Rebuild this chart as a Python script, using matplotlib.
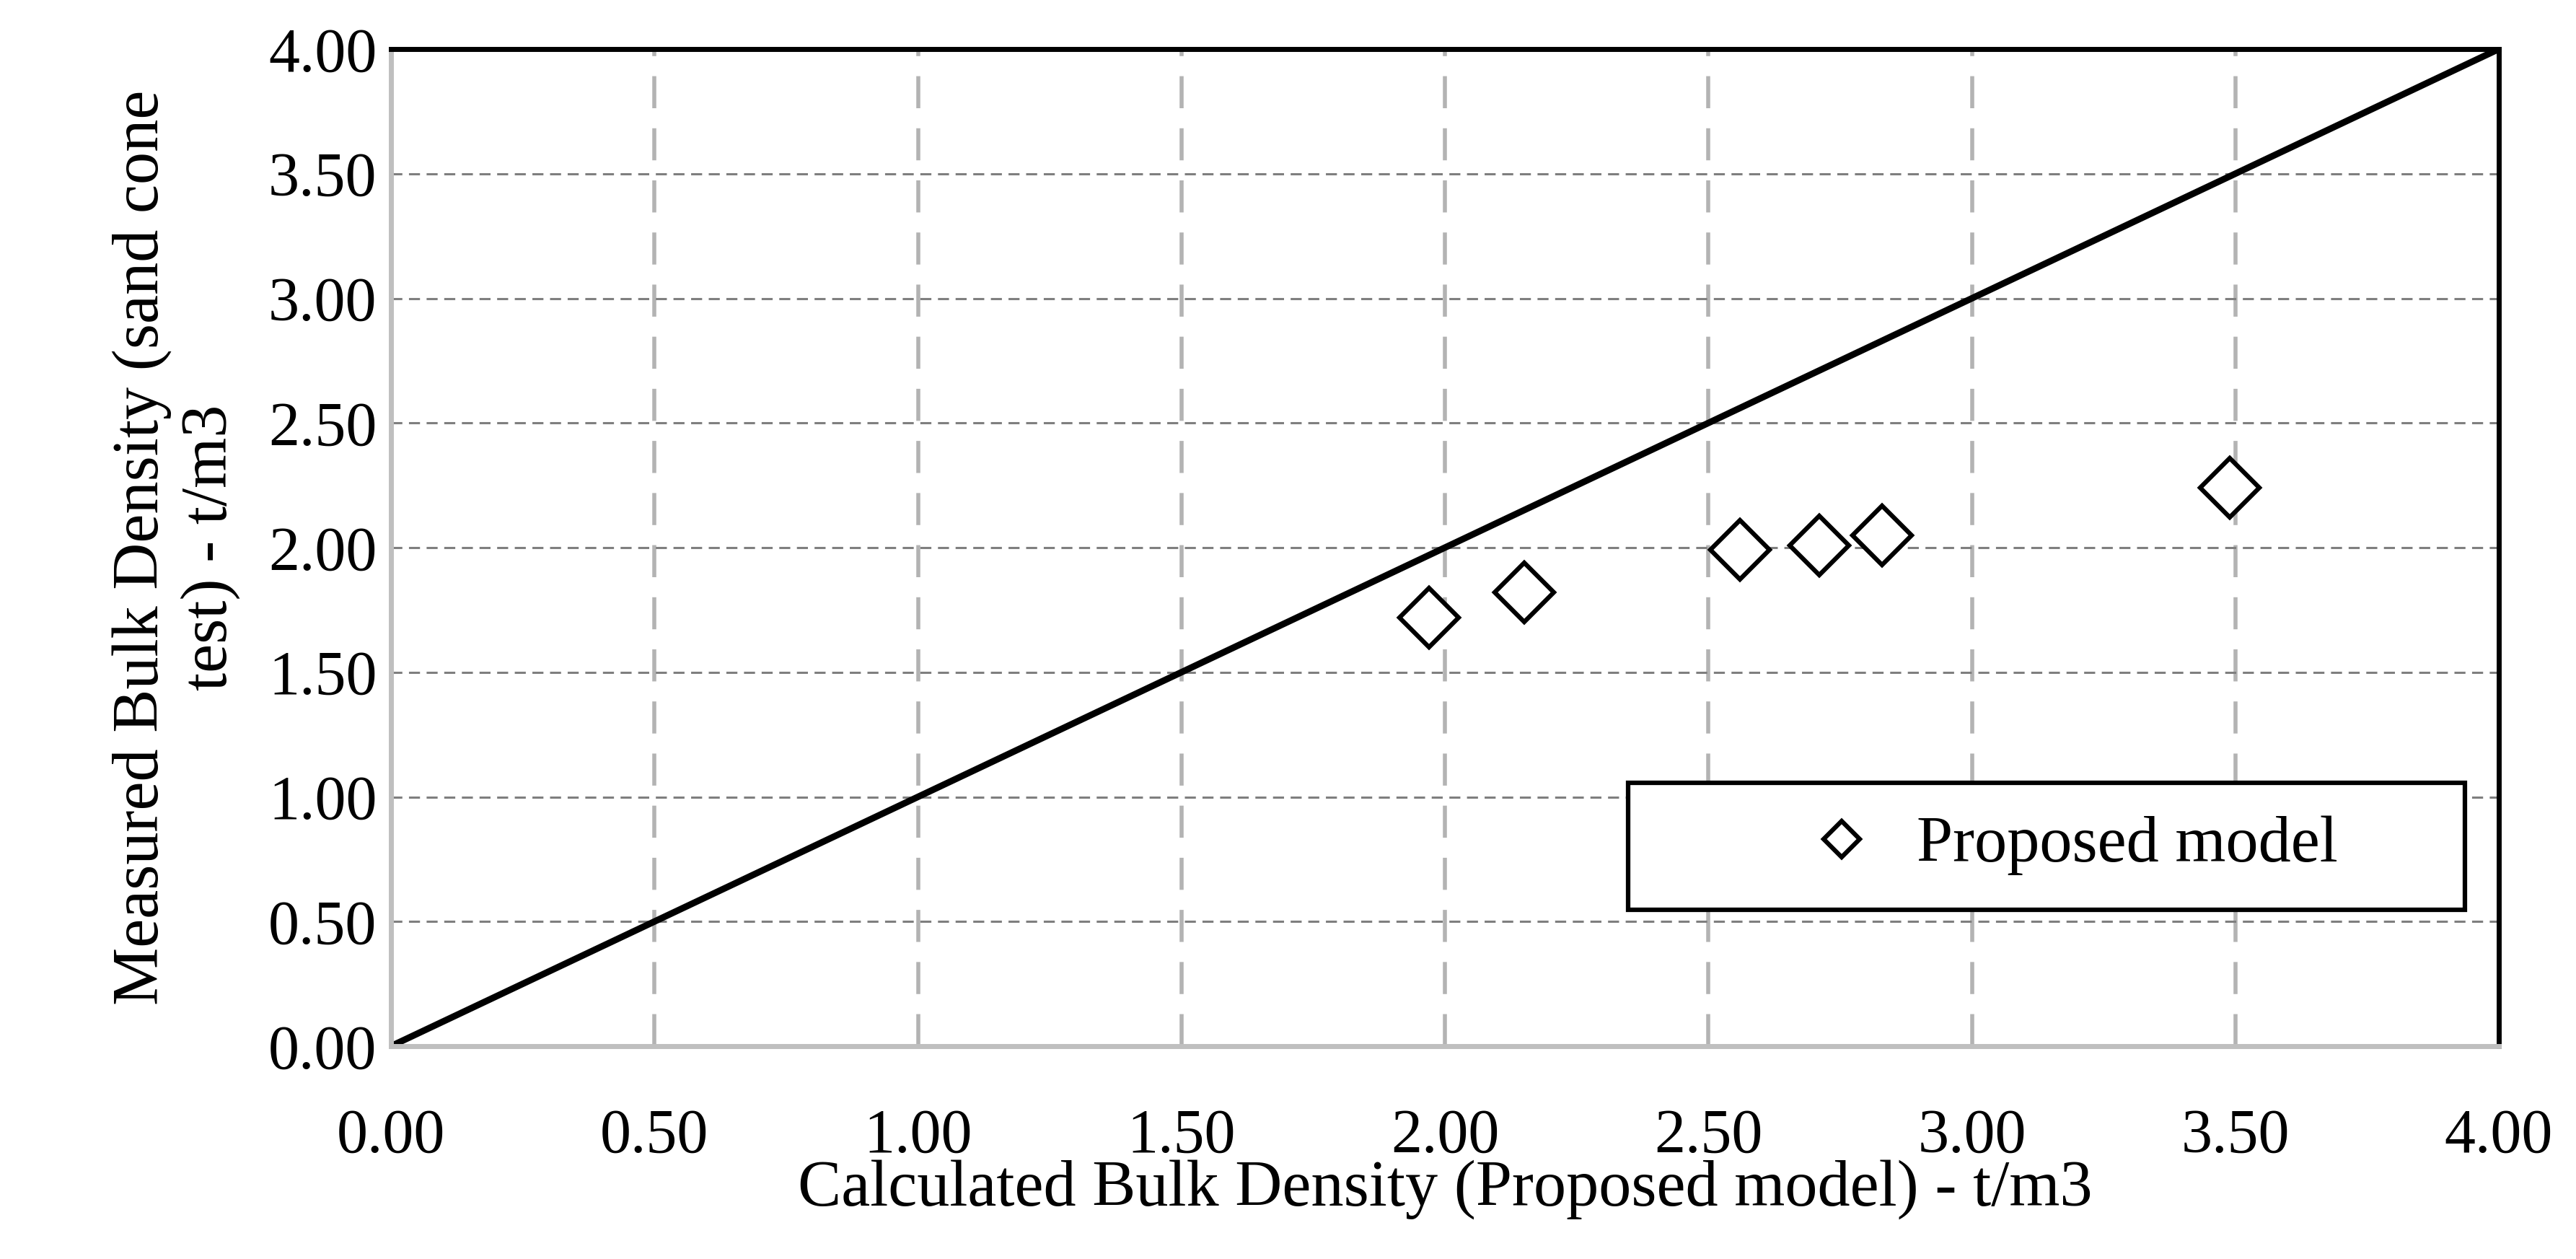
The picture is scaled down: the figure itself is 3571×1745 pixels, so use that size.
import matplotlib.pyplot as plt
from matplotlib.patches import Rectangle

# data
calc = [1.97, 2.15, 2.56, 2.71, 2.83, 3.49]
measured = [1.72, 1.82, 1.99, 2.01, 2.05, 2.24]
ticks = [0.0, 0.5, 1.0, 1.5, 2.0, 2.5, 3.0, 3.5, 4.0]
line_xy = [0.0, 4.0]

plt.rcParams['font.family'] = ['Liberation Serif', 'DejaVu Serif']

fig = plt.figure(figsize=(35.71, 17.45), dpi=100)
ax = fig.add_axes([542 / 3571, 1 - 1450 / 1745, (3464 - 542) / 3571, (1450 - 68) / 1745])

# grid: vertical long gray dashes, horizontal short darker dashes
for t in ticks[1:-1]:
    ax.axvline(t, color='#b3b3b3', lw=4, dashes=(8, 5), zorder=1)
for t in ticks[1:-1]:
    ax.axhline(t, color='#7f7f7f', lw=2.2, dashes=(5, 3), zorder=1)

ax.plot(line_xy, line_xy, color='black', lw=6.5, zorder=2)
ax.plot(calc, measured, linestyle='none', marker='D', markersize=42,
        markerfacecolor='white', markeredgecolor='black', markeredgewidth=4.5,
        label='Proposed model', zorder=3)

ax.set_xlim(0, 4)
ax.set_ylim(0, 4)
ax.set_xticks(ticks)
ax.set_yticks(ticks)
ax.set_xticklabels([f'{t:.2f}' for t in ticks])
ax.set_yticklabels([f'{t:.2f}' for t in ticks])
ax.tick_params(length=0, labelsize=62)
ax.tick_params(axis='x', pad=62)
ax.tick_params(axis='y', pad=14)

for side in ['left', 'bottom']:
    ax.spines[side].set_color('#bfbfbf')
    ax.spines[side].set_linewidth(5)
for side in ['top', 'right']:
    ax.spines[side].set_color('black')
    ax.spines[side].set_linewidth(5)

ax.set_xlabel('Calculated Bulk Density (Proposed model) - t/m3', fontsize=65, labelpad=-6)
ax.set_ylabel('Measured Bulk Density (sand cone\ntest) - t/m3', fontsize=65, labelpad=28)

# legend box drawn as a frame, legend entry placed inside it
ax.add_patch(Rectangle((0.587, 0.137), 0.397, 0.127, transform=ax.transAxes,
                       facecolor='white', edgecolor='black', lw=4.5, zorder=4))
leg = ax.legend(loc='center left', bbox_to_anchor=(0.665, 0.201), fontsize=65,
                frameon=False, borderpad=0, handlelength=1.5, handletextpad=0.4,
                borderaxespad=0, markerscale=0.6)
leg.set_zorder(5)

fig.savefig('out.png', dpi=100)
